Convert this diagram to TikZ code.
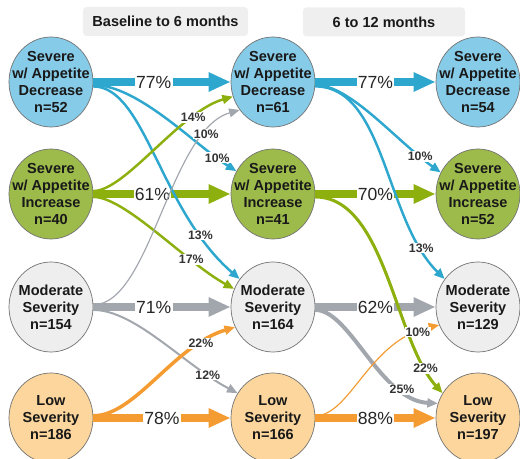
\documentclass[tikz,border=0pt]{standalone}
\usepackage{fontspec}
\setmainfont{Liberation Sans}
\usetikzlibrary{arrows.meta,shapes.geometric}

\definecolor{sevdec}{HTML}{86CBE8}
\definecolor{sevdecfl}{HTML}{2EA7CF}
\definecolor{sevinc}{HTML}{9DBB4B}
\definecolor{sevincfl}{HTML}{8DB00F}
\definecolor{modsev}{HTML}{EEEEEE}
\definecolor{modsevfl}{HTML}{A2A6AD}
\definecolor{lowsev}{HTML}{FCD69C}
\definecolor{lowsevfl}{HTML}{F49B32}
\definecolor{hdrbg}{HTML}{EFEFEF}

\tikzset{
  grp/.style={ellipse, draw=black!55, line width=0.6pt, minimum width=2.52cm, minimum height=2.7cm, inner sep=0pt},
  grptext/.style={font=\fontsize{12.4}{14.5}\selectfont\bfseries, align=center, text=black!90},
  hdr/.style={fill=hdrbg, rounded corners=3pt, minimum height=0.87cm, font=\fontsize{12.4}{14}\selectfont\bfseries, text=black!90},
  mainfl/.style={line width=6.8pt, -{Triangle[length=18.7pt,width=15.3pt]}},
  sidefl/.style={-{Triangle[length=9pt,width=7.5pt]}},
  mainpct/.style={fill=white, inner sep=1pt, font=\fontsize{15}{15}\selectfont, text=black!85},
  sidepct/.style={fill=white, inner sep=0.8pt, font=\fontsize{10.5}{10.5}\selectfont\bfseries, text=black!80},
}

\begin{document}
\begin{tikzpicture}[x=0.03cm,y=-0.03cm]
    \useasboundingbox (0,0) rectangle (520,459);

    \node[hdr, minimum width=4.95cm] (hdra) at (165.5,21.5) {Baseline to 6 months};
    \node[hdr, minimum width=4.86cm] (hdrb) at (384,22) {6 to 12 months};

    % baseline
    \node[grp, fill=sevdec] (sd1) at (51,82) {};
    \node[grp, fill=sevinc] (si1) at (51,194) {};
    \node[grp, fill=modsev] (mo1) at (51,307) {};
    \node[grp, fill=lowsev] (lo1) at (51,418) {};
    \node[grptext] (sd1t) at (sd1) {Severe\\w/ Appetite\\Decrease\\n=52};
    \node[grptext] (si1t) at (si1) {Severe\\w/ Appetite\\Increase\\n=40};
    \node[grptext] (mo1t) at (mo1) {Moderate\\Severity\\n=154};
    \node[grptext] (lo1t) at (lo1) {Low\\Severity\\n=186};

    % 6 months
    \node[grp, fill=sevdec] (sd2) at (273,82) {};
    \node[grp, fill=sevinc] (si2) at (273,194) {};
    \node[grp, fill=modsev] (mo2) at (273,307) {};
    \node[grp, fill=lowsev] (lo2) at (273,418) {};
    \node[grptext] (sd2t) at (sd2) {Severe\\w/ Appetite\\Decrease\\n=61};
    \node[grptext] (si2t) at (si2) {Severe\\w/ Appetite\\Increase\\n=41};
    \node[grptext] (mo2t) at (mo2) {Moderate\\Severity\\n=164};
    \node[grptext] (lo2t) at (lo2) {Low\\Severity\\n=166};

    % 12 months
    \node[grp, fill=sevdec] (sd3) at (478,82) {};
    \node[grp, fill=sevinc] (si3) at (478,194) {};
    \node[grp, fill=modsev] (mo3) at (478,307) {};
    \node[grp, fill=lowsev] (lo3) at (478,418) {};
    \node[grptext] (sd3t) at (sd3) {Severe\\w/ Appetite\\Decrease\\n=54};
    \node[grptext] (si3t) at (si3) {Severe\\w/ Appetite\\Increase\\n=52};
    \node[grptext] (mo3t) at (mo3) {Moderate\\Severity\\n=129};
    \node[grptext] (lo3t) at (lo3) {Low\\Severity\\n=197};

    \draw[mainfl, sevdecfl] (sd1) -- node[mainpct, pos=.44] {77\%} (sd2);
    \draw[mainfl, sevincfl] (si1) -- node[mainpct, pos=.43] {61\%} (si2);
    \draw[mainfl, modsevfl] (mo1) -- node[mainpct, pos=.44] {71\%} (mo2);
    \draw[mainfl, lowsevfl] (lo1) -- node[mainpct, pos=.5] {78\%} (lo2);

    \draw[mainfl, sevdecfl] (sd2) -- node[mainpct, pos=.5] {77\%} (sd3);
    \draw[mainfl, sevincfl] (si2) -- node[mainpct, pos=.5] {70\%} (si3);
    \draw[mainfl, modsevfl] (mo2) -- node[mainpct, pos=.5] {62\%} (mo3);
    \draw[mainfl, lowsevfl] (lo2) -- node[mainpct, pos=.5] {88\%} (lo3);

    % baseline to 6 months
    \draw[sidefl, sevdecfl, line width=2.1pt] (sd1.-4) .. controls +(45,0) and +(-40,-25) .. node[sidepct, pos=.85] {10\%} (si2.148);
    \draw[sidefl, sevdecfl, line width=2.1pt] (sd1.-6) .. controls +(52,0) and +(-80,-69) .. node[sidepct, pos=.81] {13\%} (mo2.140);
    \draw[sidefl, sevincfl, line width=2.1pt] (si1.4) .. controls +(32,0) and +(-53,15) .. node[sidepct, pos=.75] {14\%} (sd2.200);
    \draw[sidefl, sevincfl, line width=2.1pt] (si1.-4) .. controls +(32,0) and +(-49,-27) .. node[sidepct, pos=.72] {17\%} (mo2.155);
    \draw[sidefl, modsevfl, line width=1pt] (mo1.3) .. controls +(57,0) and +(-70,20) .. node[sidepct, pos=.82] {10\%} (sd2.220);
    \draw[sidefl, modsevfl, line width=1.7pt] (mo1.-4) .. controls +(42,0) and +(-53,-28) .. node[sidepct, pos=.81] {12\%} (lo2.145);
    \draw[sidefl, lowsevfl, line width=3pt] (lo1.3) .. controls +(42,0) and +(-61,18) .. node[sidepct, pos=.8] {22\%} (mo2.208);

    % 6 to 12 months
    \draw[sidefl, sevdecfl, line width=2.1pt] (sd2.-4) .. controls +(35,0) and +(-46,-33) .. node[sidepct, pos=.85] {10\%} (si3.150);
    \draw[sidefl, sevdecfl, line width=2.1pt] (sd2.-6) .. controls +(70,0) and +(-60,-59) .. node[sidepct, pos=.85] {13\%} (mo3.140);
    \draw[sidefl, sevincfl, line width=2.6pt] (si2.-4) .. controls +(70,0) and +(-48,-53) .. node[sidepct, pos=.87] {22\%} (lo3.145);
    \draw[sidefl, modsevfl, line width=3.4pt] (mo2.-4) .. controls +(35,0) and +(-58,-3) .. node[sidepct, pos=.77] {25\%} (lo3.160);
    \draw[sidefl, lowsevfl, line width=1pt] (lo2.3) .. controls +(35,0) and +(-70,15) .. node[sidepct, pos=.89] {10\%} (mo3.205);
\end{tikzpicture}
\end{document}
